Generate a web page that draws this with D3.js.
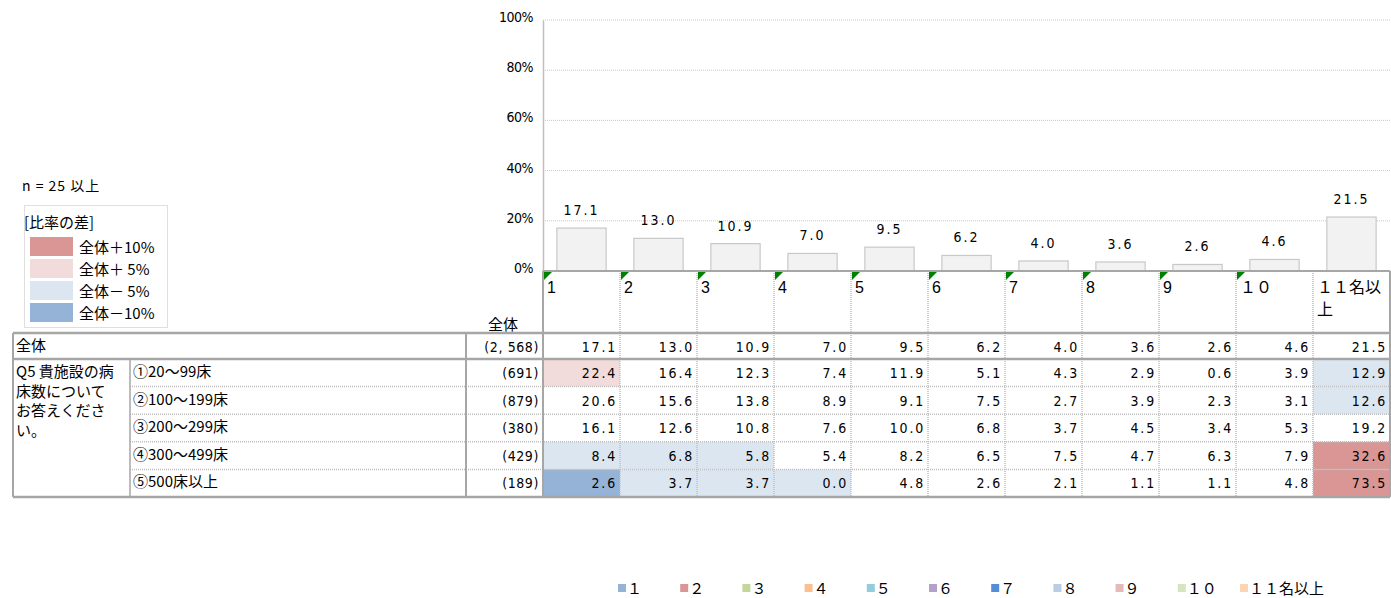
<!DOCTYPE html>
<html>
<head>
<meta charset="utf-8">
<script src="https://cdn.jsdelivr.net/npm/d3@7"></script>
<style>
  html, body { margin: 0; padding: 0; background: #fff; }
  svg { display: block; }
  text { font-family: "Noto Sans CJK JP", "DejaVu Sans", sans-serif; fill: #000; }
</style>
</head>
<body>
<svg id="chart" width="1391" height="598"></svg>
<script>
// Column categories (number of staff) and their labels
const categories = ["1", "2", "3", "4", "5", "6", "7", "8", "9", "１０", "１１名以上"];
const legendLabels = ["１", "２", "３", "４", "５", "６", "７", "８", "９", "１０", "１１名以上"];
const legendColors = ["#95B3D7", "#D99694", "#C3D69B", "#FAC090", "#93CDDD", "#B3A2C7",
                      "#558ED5", "#B9CDE5", "#E6B9B8", "#D7E4BD", "#FCD5B5"];

// Overall distribution (%)
const totalN = 2568;
const totalValues = [17.1, 13.0, 10.9, 7.0, 9.5, 6.2, 4.0, 3.6, 2.6, 4.6, 21.5];

// Breakdown by number of beds
const questionLabel = ["Q5 貴施設の病", "床数について", "お答えくださ", "い。"];
const rowLabels = ["①20～99床", "②100～199床", "③200～299床", "④300～499床", "⑤500床以上"];
const rowN = [691, 879, 380, 429, 189];
const rowValues = [
  [22.4, 16.4, 12.3, 7.4, 11.9, 5.1, 4.3, 2.9, 0.6, 3.9, 12.9],
  [20.6, 15.6, 13.8, 8.9, 9.1, 7.5, 2.7, 3.9, 2.3, 3.1, 12.6],
  [16.1, 12.6, 10.8, 7.6, 10.0, 6.8, 3.7, 4.5, 3.4, 5.3, 19.2],
  [8.4, 6.8, 5.8, 5.4, 8.2, 6.5, 7.5, 4.7, 6.3, 7.9, 32.6],
  [2.6, 3.7, 3.7, 0.0, 4.8, 2.6, 2.1, 1.1, 1.1, 4.8, 73.5]
];

// Difference-from-total legend
const diffLabels = ["全体＋10%", "全体＋ 5%", "全体－ 5%", "全体－10%"];
const diffColors = ["#DA9694", "#F2DCDB", "#DCE6F1", "#95B3D7"];
const yTicks = [0, 20, 40, 60, 80, 100];

const svg = d3.select("#chart");
const fmt1 = d3.format(".1f");
const fmtN = d3.format(",");

// Layout
const left = 543, right = 1390;
const yTop = 20, yZero = 271;
const headerBottom = 333;
const totalRowBottom = 359;
const tableBottom = 497;
const tableLeft = 13, qColRight = 130, labelColRight = 466;
const thick = "#A6A6A6", dotted = "#BFBFBF";
const numFont = "'DejaVu Sans Condensed', 'Noto Sans CJK JP', sans-serif";

const x = d3.scaleBand().domain(categories).range([left, right]).paddingInner(0).paddingOuter(0);
const y = d3.scaleLinear().domain([0, 100]).range([yZero, yTop]);
const rowY = d3.scaleBand().domain(d3.range(rowLabels.length)).range([totalRowBottom, tableBottom]);

// ---- Bar chart ----
const gGrid = svg.append("g");
gGrid.selectAll("line").data(yTicks.filter(d => d > 0)).join("line")
  .attr("x1", left).attr("x2", right)
  .attr("y1", d => y(d)).attr("y2", d => y(d))
  .attr("stroke", "#C8C8C8").attr("stroke-width", 1).attr("stroke-dasharray", "1,1");

const yAxis = d3.axisLeft(y).tickValues(yTicks).tickFormat(d => d + "%").tickSize(0).tickPadding(10);
const gy = svg.append("g").attr("transform", `translate(${left},0)`).call(yAxis);
gy.select(".domain").attr("stroke", "#BFBFBF").attr("stroke-width", 1.5);
gy.selectAll("text").style("font-family", "'Liberation Sans Narrow', 'DejaVu Sans Condensed', sans-serif")
  .style("font-size", "14px").attr("fill", "#000").attr("dy", "0.1em").style("letter-spacing", "-0.5px");

const barW = x.bandwidth() * 0.64;
svg.append("g").selectAll("rect").data(totalValues).join("rect")
  .attr("x", (d, i) => x(categories[i]) + (x.bandwidth() - barW) / 2)
  .attr("width", barW)
  .attr("y", d => y(d))
  .attr("height", d => yZero - y(d))
  .attr("fill", "#F2F2F2").attr("stroke", "#C8C8C8").attr("stroke-width", 1.2);

svg.append("g").selectAll("text").data(totalValues).join("text")
  .attr("x", (d, i) => x(categories[i]) + x.bandwidth() / 2)
  .attr("y", d => y(d) - 13)
  .attr("text-anchor", "middle")
  .style("font-family", numFont)
  .style("font-size", "14px").style("letter-spacing", "2px")
  .text(d => fmt1(d));

// ---- Header row ----
const header = svg.append("g");
categories.forEach((c, i) => {
  const x0 = x(c);
  if (i < categories.length - 1) {
    header.append("path")
      .attr("d", `M${x0 + 1},${yZero + 1}h8l-8,8z`).attr("fill", "#008000");
  }
  const t = header.append("text")
    .attr("x", x0 + 4).attr("y", yZero + 22)
    .style("font-size", "16px")
    .style("font-family", i < 9 ? "'Liberation Sans', Arial, sans-serif" : "'Noto Sans CJK JP', sans-serif");
  if (c.length > 4) {
    t.text(c.slice(0, 4));
    header.append("text").attr("x", x0 + 4).attr("y", yZero + 44)
      .style("font-size", "16px").text(c.slice(4));
  } else {
    t.text(c);
  }
});
header.append("text").attr("x", 503).attr("y", headerBottom - 3)
  .attr("text-anchor", "middle").style("font-size", "15px").text("全体");

// ---- Table cell shading ----
function shade(v, base) {
  const d = v - base;
  if (d >= 10) return diffColors[0];
  if (d >= 5) return diffColors[1];
  if (d <= -10) return diffColors[3];
  if (d <= -5) return diffColors[2];
  return null;
}
const cells = svg.append("g");
rowValues.forEach((row, r) => {
  row.forEach((v, c) => {
    const col = shade(v, totalValues[c]);
    if (col) {
      cells.append("rect")
        .attr("x", x(categories[c])).attr("y", rowY(r))
        .attr("width", x.bandwidth()).attr("height", rowY.bandwidth())
        .attr("fill", col);
    }
  });
});

// ---- Grid lines ----
const grid = svg.append("g").attr("fill", "none");
// dotted column separators
categories.slice(1).forEach(c => {
  grid.append("line").attr("x1", x(c)).attr("x2", x(c))
    .attr("y1", yZero).attr("y2", tableBottom)
    .attr("stroke", dotted).attr("stroke-width", 1.5).attr("stroke-dasharray", "1,1");
});
// dotted row separators
d3.range(1, rowLabels.length).forEach(r => {
  grid.append("line").attr("x1", qColRight).attr("x2", right)
    .attr("y1", rowY(r)).attr("y2", rowY(r))
    .attr("stroke", dotted).attr("stroke-width", 1.5).attr("stroke-dasharray", "1,1");
});
// solid frame lines
const solid = (x1, y1, x2, y2, w) => grid.append("line")
  .attr("x1", x1).attr("y1", y1).attr("x2", x2).attr("y2", y2)
  .attr("stroke", thick).attr("stroke-width", w || 2);
solid(left, yZero, right, yZero);
solid(right, yZero, right, tableBottom);
solid(left, yZero, left, tableBottom);
solid(tableLeft, headerBottom, right, headerBottom, 2.5);
solid(tableLeft, totalRowBottom, right, totalRowBottom, 2.5);
solid(tableLeft, tableBottom, right, tableBottom, 2.5);
solid(tableLeft, headerBottom, tableLeft, tableBottom);
solid(labelColRight, headerBottom, labelColRight, tableBottom);
solid(qColRight, totalRowBottom, qColRight, tableBottom, 1.5);

// ---- Table text ----
const txt = svg.append("g").style("font-size", "14px");
const numStyle = s => s.style("letter-spacing", "1.8px").style("font-family", numFont);
txt.append("text").attr("x", 16).attr("y", headerBottom + 18).style("font-size", "15px").text("全体");
txt.append("text").attr("x", labelColRight + 73).attr("y", headerBottom + 19)
  .attr("text-anchor", "end").call(numStyle).style("letter-spacing", "0.6px")
  .text(`(${fmtN(totalN).replace(",", ", ")})`);
totalValues.forEach((v, c) => {
  txt.append("text").attr("x", x(categories[c]) + x.bandwidth() - 3).attr("y", headerBottom + 19)
    .attr("text-anchor", "end").call(numStyle).text(fmt1(v));
});
questionLabel.forEach((s, i) => {
  txt.append("text").attr("x", 16).attr("y", totalRowBottom + 18 + i * 19.5)
    .style("font-size", "15px").text(s);
});
rowLabels.forEach((s, r) => {
  const yy = rowY(r) + 19;
  txt.append("text").attr("x", 133).attr("y", yy - 1).style("font-size", "15px").text(s);
  txt.append("text").attr("x", labelColRight + 73).attr("y", yy)
    .attr("text-anchor", "end").call(numStyle).style("letter-spacing", "0.6px").text(`(${fmtN(rowN[r])})`);
  rowValues[r].forEach((v, c) => {
    txt.append("text").attr("x", x(categories[c]) + x.bandwidth() - 3).attr("y", yy)
      .attr("text-anchor", "end").call(numStyle).text(fmt1(v));
  });
});

// ---- Top-left notes and difference legend ----
svg.append("text").attr("x", 22).attr("y", 191).style("font-size", "14px")
  .style("letter-spacing", "1px").text("n = 25 以上");
svg.append("rect").attr("x", 24.5).attr("y", 205.5).attr("width", 143).attr("height", 122)
  .attr("fill", "none").attr("stroke", "#BFBFBF").attr("stroke-dasharray", "1,1");
svg.append("text").attr("x", 24).attr("y", 228).style("font-size", "15px").text("[比率の差]");
const dl = svg.append("g").selectAll("g").data(diffLabels).join("g")
  .attr("transform", (d, i) => `translate(30,${237 + i * 22})`);
dl.append("rect").attr("width", 43).attr("height", 19).attr("fill", (d, i) => diffColors[i]);
dl.append("text").attr("x", 49).attr("y", 15.5).style("font-size", "15px").text(d => d);

// ---- Bottom series legend ----
const lg = svg.append("g").selectAll("g").data(legendLabels).join("g")
  .attr("transform", (d, i) => `translate(${618 + i * 62.2},584)`);
lg.append("rect").attr("width", 8).attr("height", 8).attr("fill", (d, i) => legendColors[i]);
lg.append("text").attr("x", 9).attr("y", 9.5).style("font-size", "15px").text(d => d);
</script>
</body>
</html>
